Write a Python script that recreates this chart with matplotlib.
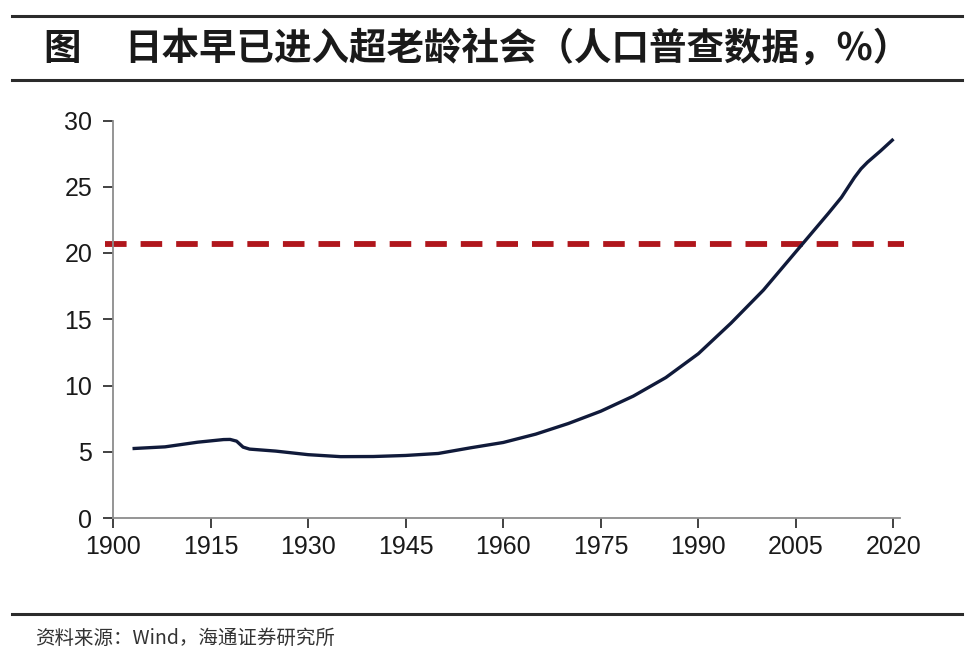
import matplotlib.pyplot as plt
from matplotlib.lines import Line2D

plt.rcParams['font.family'] = ['Liberation Sans', 'Noto Sans CJK SC', 'DejaVu Sans']

years = [1903, 1908, 1913, 1917, 1918, 1919, 1920, 1921, 1925, 1930, 1935, 1940,
         1945, 1950, 1955, 1960, 1965, 1970, 1975, 1980, 1985, 1990, 1995, 2000,
         2005, 2010, 2012, 2014, 2015, 2016, 2018, 2020]
elderly_share = [5.24, 5.37, 5.72, 5.92, 5.93, 5.8, 5.35, 5.2, 5.05, 4.78, 4.63, 4.64,
                 4.72, 4.87, 5.3, 5.7, 6.33, 7.13, 8.06, 9.2, 10.6, 12.4, 14.7, 17.2,
                 20.1, 23.0, 24.2, 25.7, 26.35, 26.85, 27.7, 28.6]
threshold = 20.7

x_ticks = [1900, 1915, 1930, 1945, 1960, 1975, 1990, 2005, 2020]
y_ticks = [0, 5, 10, 15, 20, 25, 30]

title_tag = "图"
title = "日本早已进入超老龄社会（人口普查数据，%）"
source = "资料来源：Wind，海通证券研究所"

fig = plt.figure(figsize=(9.69, 6.59), dpi=100)
ax = fig.add_axes([113 / 969, 1 - 518 / 659, (900 - 113) / 969, (518 - 120.5) / 659])

ax.plot(years, elderly_share, color='#101a3a', lw=2.4, solid_capstyle='butt',
        solid_joinstyle='round', zorder=3)
ax.axhline(threshold, xmin=-0.01, xmax=1.005, color='#b0161c', lw=4.2,
           dashes=(3.7, 2.4), clip_on=False, zorder=2)

ax.set_xlim(1900, 2021)
ax.set_ylim(0, 30)
ax.set_xticks(x_ticks)
ax.set_yticks(y_ticks)

for side in ('top', 'right'):
    ax.spines[side].set_visible(False)
for side in ('left', 'bottom'):
    ax.spines[side].set_color('#8c8c8c')
    ax.spines[side].set_linewidth(1.3)

ax.tick_params(axis='both', direction='out', length=7, width=1.3, color='#333333',
               labelsize=18, labelcolor='#1a1a1a')
ax.tick_params(axis='y', pad=8)
ax.tick_params(axis='x', pad=5)

# header and footer rules
for y in (16, 80, 614):
    fig.add_artist(Line2D([12 / 969, 962 / 969], [1 - y / 659, 1 - y / 659],
                          color='#2b2b2b', lw=2.2))

cjk = ['Noto Sans CJK SC', 'DejaVu Sans']
fig.text(43 / 969, 1 - 48.5 / 659, title_tag, fontsize=27, fontweight='bold',
         color='#1a1a1a', va='center', ha='left', family=cjk)
fig.text(124 / 969, 1 - 48.5 / 659, title, fontsize=27, fontweight='bold',
         color='#1a1a1a', va='center', ha='left', family=cjk)
fig.text(35 / 969, 1 - 638 / 659, source, fontsize=14, color='#333333',
         va='center', ha='left', family=cjk)

fig.savefig('out.png', dpi=100)
